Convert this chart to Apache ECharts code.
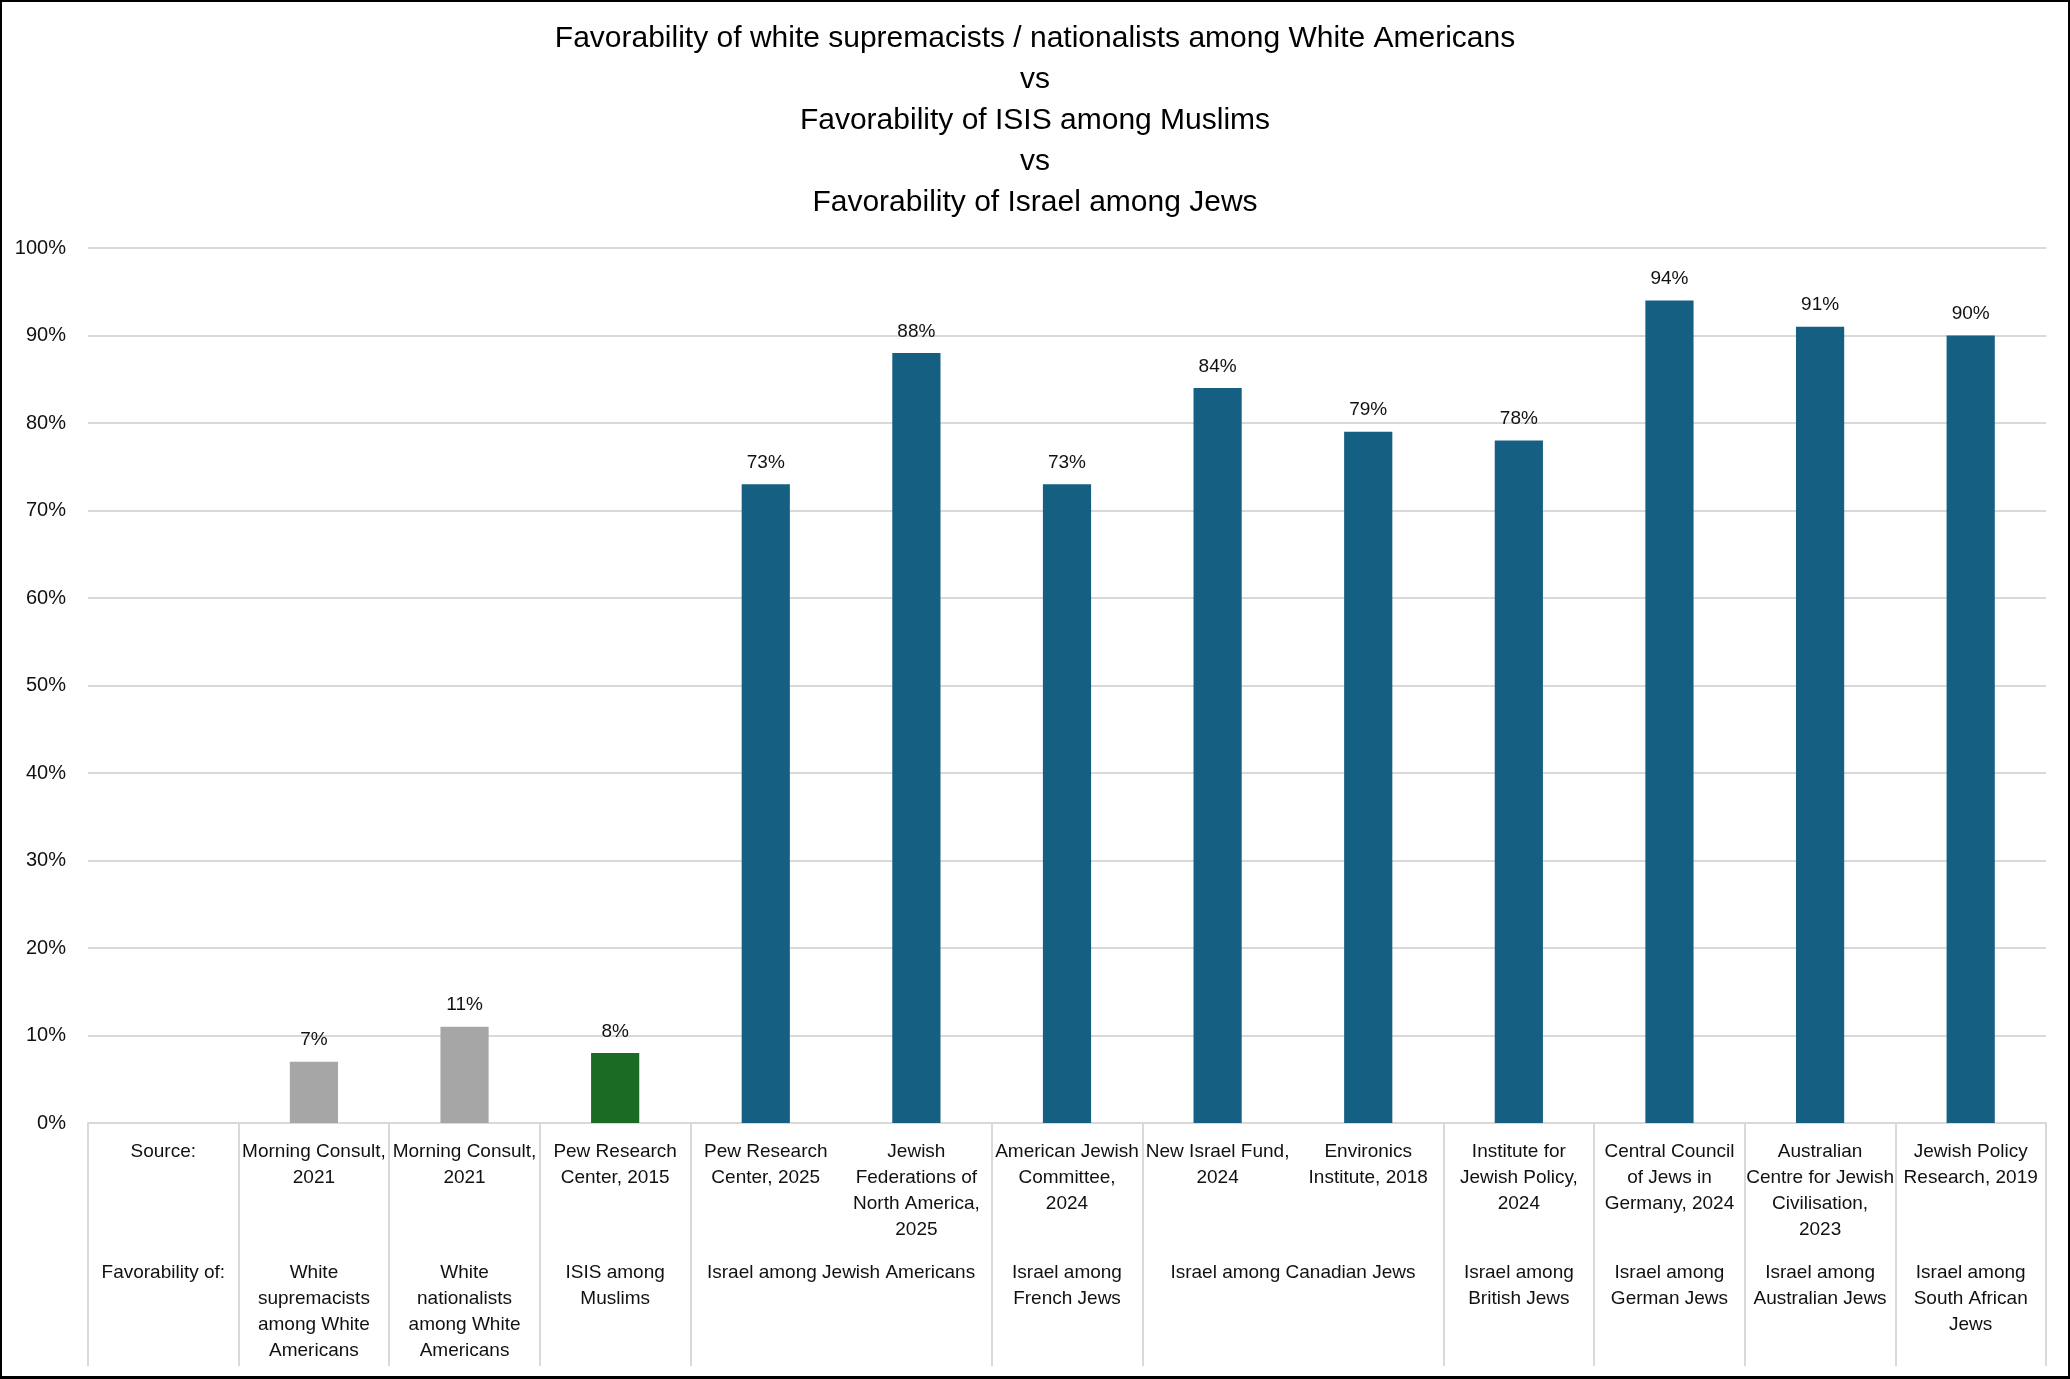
<!DOCTYPE html>
<html>
<head>
<meta charset="utf-8">
<title>Favorability comparison</title>
<script src="https://cdn.jsdelivr.net/npm/echarts@6/dist/echarts.min.js"></script>
<style>
  html, body { margin: 0; padding: 0; background: #fff; }
  #wrap { position: relative; width: 2070px; height: 1379px; }
  #chart { position: absolute; left: 0; top: 0; width: 2070px; height: 1379px; }
  #frame {
    position: absolute; left: 0; top: 0; right: 0; bottom: 0;
    border: 2px solid #000; border-bottom-width: 3px;
    pointer-events: none;
  }
</style>
</head>
<body>
<div id="wrap">
  <div id="chart"></div>
  <div id="frame"></div>
</div>
<script>
// ---- data ----
var sources = [
  'Source:',
  'Morning Consult,\n2021',
  'Morning Consult,\n2021',
  'Pew Research\nCenter, 2015',
  'Pew Research\nCenter, 2025',
  'Jewish\nFederations of\nNorth America,\n2025',
  'American Jewish\nCommittee,\n2024',
  'New Israel Fund,\n2024',
  'Environics\nInstitute, 2018',
  'Institute for\nJewish Policy,\n2024',
  'Central Council\nof Jews in\nGermany, 2024',
  'Australian\nCentre for Jewish\nCivilisation,\n2023',
  'Jewish Policy\nResearch, 2019'
];

// null = merged with the cell on its left
var favorabilityOf = [
  'Favorability of:',
  'White\nsupremacists\namong White\nAmericans',
  'White\nnationalists\namong White\nAmericans',
  'ISIS among\nMuslims',
  'Israel among Jewish Americans',
  null,
  'Israel among\nFrench Jews',
  'Israel among Canadian Jews',
  null,
  'Israel among\nBritish Jews',
  'Israel among\nGerman Jews',
  'Israel among\nAustralian Jews',
  'Israel among\nSouth African\nJews'
];

var subject = ['', 'white', 'white', 'isis', 'israel', 'israel', 'israel',
  'israel', 'israel', 'israel', 'israel', 'israel', 'israel'];

var favorable = [null, 7, 11, 8, 73, 88, 73, 84, 79, 78, 94, 91, 90];

var yTicks = [0, 10, 20, 30, 40, 50, 60, 70, 80, 90, 100];

var titleLines = [
  'Favorability of white supremacists / nationalists among White Americans',
  'vs',
  'Favorability of ISIS among Muslims',
  'vs',
  'Favorability of Israel among Jews'
];

// ---- styles ----
var FONT = "'Liberation Sans Narrow', 'Liberation Sans', 'DejaVu Sans Condensed', sans-serif";
var TEXT = '#111';
var LINE = '#d9d9d9';
var COLORS = { white: '#a6a6a6', isis: '#1b6b24', israel: '#156082' };

// centres of the (possibly merged) favorability cells on a 0..n value scale
var favMap = {};
favorabilityOf.forEach(function(txt, i) {
  if (txt === null) return;
  var span = 1;
  while (i + span < favorabilityOf.length && favorabilityOf[i + span] === null) span++;
  favMap[(i + span / 2).toFixed(1)] = txt;
});

var chart = echarts.init(document.getElementById('chart'), null, { renderer: 'canvas' });

chart.setOption({
  animation: false,
  textStyle: { fontFamily: FONT },
  title: {
    text: titleLines.join('\n'),
    left: 'center',
    top: 18,
    padding: 0,
    textStyle: {
      fontFamily: FONT,
      fontSize: 30,
      fontWeight: 'normal',
      lineHeight: 41,
      color: '#000'
    }
  },
  grid: { left: 88, right: 24, top: 248, bottom: 256, containLabel: false },
  xAxis: [{
    type: 'category',
    data: sources,
    axisLine: { show: true, lineStyle: { color: LINE, width: 2 } },
    axisTick: {
      show: true,
      length: 243,
      lineStyle: { color: LINE, width: 2 },
      interval: function(index) {
        return favorabilityOf[index] !== null;
      }
    },
    axisLabel: {
      interval: 0,
      margin: 16,
      verticalAlign: 'top',
      align: 'center',
      fontFamily: FONT,
      fontSize: 19,
      lineHeight: 26,
      color: TEXT
    }
  }, {
    type: 'value',
    position: 'bottom',
    min: 0,
    max: sources.length,
    interval: 0.5,
    axisLine: { show: false },
    axisTick: { show: false },
    splitLine: { show: false },
    axisLabel: {
      margin: 137,
      verticalAlign: 'top',
      align: 'center',
      fontFamily: FONT,
      fontSize: 19,
      lineHeight: 26,
      color: TEXT,
      formatter: function(v) {
        return favMap[v.toFixed(1)] || '';
      }
    }
  }],
  yAxis: {
    type: 'value',
    min: yTicks[0],
    max: yTicks[yTicks.length - 1],
    interval: yTicks[1] - yTicks[0],
    axisLine: { show: false },
    axisTick: { show: false },
    splitLine: { lineStyle: { color: LINE, width: 2 } },
    axisLabel: {
      margin: 22,
      fontFamily: FONT,
      fontSize: 20,
      color: TEXT,
      formatter: '{value}%'
    }
  },
  series: [{
    type: 'bar',
    xAxisIndex: 0,
    barWidth: '32%',
    data: favorable.map(function(v, i) {
      return { value: v, itemStyle: { color: COLORS[subject[i]] || '#ccc' } };
    }),
    label: {
      show: true,
      position: 'top',
      distance: 12,
      fontFamily: FONT,
      fontSize: 19,
      color: TEXT,
      formatter: function(p) { return p.value == null ? '' : p.value + '%'; }
    }
  }]
});
</script>
</body>
</html>
